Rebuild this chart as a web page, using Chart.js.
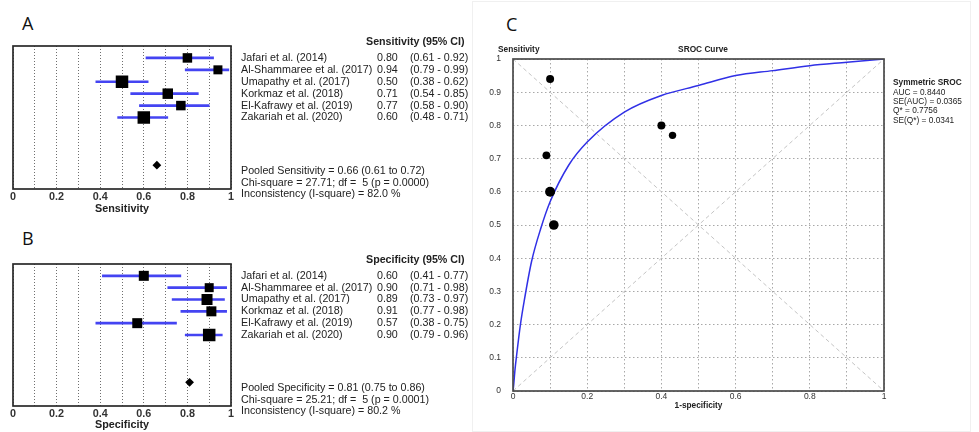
<!DOCTYPE html>
<html>
<head>
<meta charset="utf-8">
<script src="https://cdn.jsdelivr.net/npm/chart.js@4.4.1/dist/chart.umd.min.js"></script>
<style>
  html, body { margin: 0; padding: 0; background: #fff; }
  body { width: 979px; height: 432px; position: relative; overflow: hidden; }
  .box { position: absolute; }
  .letter { position: absolute; font-family: "Open Sans", sans-serif; font-size: 18px; line-height: 18px; color: #111; }
  #frameC { position: absolute; left: 472px; top: 1px; width: 497px; height: 429px; border: 1px solid #f0f0f0; }
</style>
</head>
<body>
<div id="frameC"></div>
<div class="letter" style="left:22px;top:14px">A</div>
<div class="letter" style="left:22px;top:229px">B</div>
<div class="letter" style="left:506px;top:15px">C</div>
<div class="box" style="left:0;top:0;width:480px;height:220px"><canvas id="chartA"></canvas></div>
<div class="box" style="left:0;top:218px;width:480px;height:214px"><canvas id="chartB"></canvas></div>
<div class="box" style="left:480px;top:0;width:499px;height:432px"><canvas id="chartC"></canvas></div>
<script>
const studies = ['Jafari et al. (2014)', 'Al-Shammaree et al. (2017)', 'Umapathy et al. (2017)',
  'Korkmaz et al. (2018)', 'El-Kafrawy et al. (2019)', 'Zakariah et al. (2020)'];
const sens = [0.80, 0.94, 0.50, 0.71, 0.77, 0.60];
const sensLo = [0.61, 0.79, 0.38, 0.54, 0.58, 0.48];
const sensHi = [0.92, 0.99, 0.62, 0.85, 0.90, 0.71];
const spec = [0.60, 0.90, 0.89, 0.91, 0.57, 0.90];
const specLo = [0.41, 0.71, 0.73, 0.77, 0.38, 0.79];
const specHi = [0.77, 0.98, 0.97, 0.98, 0.75, 0.96];
const pooledSens = [0.66, 0.61, 0.72];
const pooledSpec = [0.81, 0.75, 0.86];
const chiSquare = [27.71, 25.21];
const dfValues = [5, 5];
const pValues = ['0.0000', '0.0001'];
const iSquare = ['82.0', '80.2'];
const forestTicks = ['0', '0.2', '0.4', '0.6', '0.8', '1'];
const srocXTicks = ['0', '0.2', '0.4', '0.6', '0.8', '1'];
const srocYTicks = ['0', '0.1', '0.2', '0.3', '0.4', '0.5', '0.6', '0.7', '0.8', '0.9', '1'];
const srocFpr = [0, 0.002, 0.005, 0.01, 0.02, 0.03, 0.05, 0.075, 0.1, 0.15, 0.2, 0.3, 0.4, 0.5, 0.6, 0.7, 0.8, 0.9, 1];
const srocTpr = [0, 0.02, 0.06, 0.11, 0.2, 0.27, 0.39, 0.49, 0.57, 0.68, 0.75, 0.84, 0.89, 0.92, 0.95, 0.965, 0.98, 0.99, 1];
const diagUp = [[0, 0], [1, 1]];
const diagDown = [[0, 1], [1, 0]];
const srocLabels = ['AUC', 'SE(AUC)', 'Q*', 'SE(Q*)'];
const srocValues = ['0.8440', '0.0365', '0.7756', '0.0341'];

// marker sizes (px)
const boxSizeA = [9.5, 9, 12.5, 10.5, 9.5, 12.5];
const boxSizeB = [10, 9, 11, 10, 10, 12.5];
const dotSizeC = [4, 4, 4.8, 3.9, 3.7, 5];

const FONT = '"Liberation Sans", Arial, sans-serif';
Chart.defaults.font.family = FONT;
Chart.defaults.color = '#333';

const framePlugin = {
  id: 'frame',
  afterDraw(chart, args, o) {
    const {ctx, chartArea: a} = chart;
    ctx.save();
    ctx.strokeStyle = o.color || '#333';
    ctx.lineWidth = o.width || 1.5;
    ctx.strokeRect(a.left, a.top, a.right - a.left, a.bottom - a.top);
    ctx.restore();
  }
};

const forestText = {
  id: 'forestText',
  afterDraw(chart, args, o) {
    const {ctx} = chart;
    const y = chart.scales.y;
    ctx.save();
    ctx.fillStyle = '#222';
    ctx.textBaseline = 'middle';
    ctx.font = 'bold 10.7px ' + FONT;
    ctx.fillText(o.header, 366, y.getPixelForValue(0) - 4);
    ctx.font = '10.7px ' + FONT;
    o.est.forEach((v, i) => {
      const py = y.getPixelForValue(i + 1);
      ctx.fillText(studies[i], 241, py);
      ctx.fillText(v.toFixed(2), 377, py);
      ctx.fillText('(' + o.lo[i].toFixed(2) + ' - ' + o.hi[i].toFixed(2) + ')', 410, py);
    });
    const k = o.k;
    const base = y.getPixelForValue(10) + 6;
    const lines = [
      'Pooled ' + o.name + ' = ' + o.pooled[0].toFixed(2) + ' (' + o.pooled[1].toFixed(2) + ' to ' + o.pooled[2].toFixed(2) + ')',
      'Chi-square = ' + chiSquare[k].toFixed(2) + '; df =  ' + dfValues[k] + ' (p = ' + pValues[k] + ')',
      'Inconsistency (I-square) = ' + iSquare[k] + ' %'
    ];
    lines.forEach((t, i) => ctx.fillText(t, 241, base + i * 11.6));
    ctx.restore();
  }
};

function forestChart(id, k, name, est, lo, hi, pooled, sizes) {
  return new Chart(document.getElementById(id), {
    type: 'scatter',
    data: {
      datasets: [
        {
          type: 'scatter', order: 0,
          data: est.map((v, i) => ({x: v, y: i + 1})),
          pointStyle: 'rect', pointRadius: sizes.map(s => s / Math.SQRT2),
          pointBackgroundColor: '#000', pointBorderWidth: 0
        },
        {
          type: 'scatter', order: 0,
          data: [{x: pooled[0], y: 10}],
          pointStyle: 'rectRot', pointRadius: 4.4,
          pointBackgroundColor: '#000', pointBorderWidth: 0
        },
        {
          type: 'bar', order: 1, indexAxis: 'y',
          data: lo.map((v, i) => ({x: [v, hi[i]], y: i + 1})),
          barThickness: 2, backgroundColor: '#4444f2', borderWidth: 0
        }
      ]
    },
    options: {
      responsive: true, maintainAspectRatio: false, animation: false,
      layout: {padding: {left: 13, right: 249, top: 46, bottom: 0}},
      plugins: {
        legend: {display: false}, tooltip: {enabled: false},
        frame: {color: '#2a2a2a', width: 1.7},
        forestText: {header: name + ' (95% CI)', name, k, est, lo, hi, pooled}
      },
      scales: {
        x: {
          type: 'linear', min: 0, max: 1, offset: false,
          ticks: {
            stepSize: 0.1, autoSkip: false, maxRotation: 0, padding: 2, color: '#333',
            font: {size: 10.8, weight: 'bold'},
            callback: (v, i) => (i % 2 === 0 ? forestTicks[i / 2] : '')
          },
          grid: {color: '#6e6e6e', lineWidth: 1, drawTicks: false, offset: false},
          border: {display: false, dash: [1, 2]},
          title: {display: true, text: name, color: '#222', font: {size: 10.8, weight: 'bold'},
                  padding: {top: 0, bottom: id === 'chartA' ? 4 : 0}},
          afterFit: s => { s.height = id === 'chartA' ? 31 : 26; }
        },
        y: {type: 'linear', min: 0, max: 12, reverse: true, display: false, offset: false}
      }
    },
    plugins: [framePlugin, forestText]
  });
}

forestChart('chartA', 0, 'Sensitivity', sens, sensLo, sensHi, pooledSens, boxSizeA);
forestChart('chartB', 1, 'Specificity', spec, specLo, specHi, pooledSpec, boxSizeB);

const srocText = {
  id: 'srocText',
  afterDraw(chart) {
    const {ctx, chartArea: a} = chart;
    ctx.save();
    ctx.fillStyle = '#222';
    ctx.textBaseline = 'middle';
    ctx.font = 'bold 8.3px ' + FONT;
    ctx.fillText('Sensitivity', 18, a.top - 9);
    ctx.textAlign = 'center';
    ctx.fillText('SROC Curve', 223, a.top - 9);
    ctx.textAlign = 'left';
    ctx.fillText('Symmetric SROC', 413, 83);
    ctx.font = '8.3px ' + FONT;
    srocLabels.forEach((l, i) => ctx.fillText(l + ' = ' + srocValues[i], 413, 92.4 + i * 9.3));
    ctx.restore();
  }
};

const fpr = spec.map(v => 1 - v);

new Chart(document.getElementById('chartC'), {
  type: 'scatter',
  data: {
    datasets: [
      {
        type: 'scatter', order: 0,
        data: fpr.map((v, i) => ({x: v, y: sens[i]})),
        pointRadius: dotSizeC, pointBackgroundColor: '#000', pointBorderWidth: 0
      },
      {
        type: 'line', order: 1,
        data: srocFpr.map((v, i) => ({x: v, y: srocTpr[i]})),
        borderColor: '#3030e6', borderWidth: 1.5, pointRadius: 0, cubicInterpolationMode: 'monotone', fill: false
      },
      {
        type: 'line', order: 2,
        data: diagUp.map(p => ({x: p[0], y: p[1]})),
        borderColor: '#c4c4c4', borderWidth: 1, borderDash: [4, 3], pointRadius: 0, fill: false
      },
      {
        type: 'line', order: 2,
        data: diagDown.map(p => ({x: p[0], y: p[1]})),
        borderColor: '#c4c4c4', borderWidth: 1, borderDash: [4, 3], pointRadius: 0, fill: false
      }
    ]
  },
  options: {
    responsive: true, maintainAspectRatio: false, animation: false,
    layout: {padding: {left: 0, right: 95, top: 59, bottom: 16}},
    plugins: {
      legend: {display: false}, tooltip: {enabled: false},
      frame: {color: '#4a4a4a', width: 1.7}
    },
    scales: {
      x: {
        type: 'linear', min: 0, max: 1, offset: false,
        ticks: {
          stepSize: 0.1, autoSkip: false, maxRotation: 0, padding: 1, color: '#333',
          font: {size: 8.5},
          callback: (v, i) => (i % 2 === 0 ? srocXTicks[i / 2] : '')
        },
        grid: {color: '#a8a8a8', lineWidth: 1, drawTicks: false},
        border: {display: false, dash: [1.5, 2.5]},
        title: {display: true, text: '1-specificity', color: '#222', font: {size: 8.3, weight: 'bold'}, padding: {top: 0, bottom: 5}},
        afterFit: s => { s.height = 25; }
      },
      y: {
        type: 'linear', min: 0, max: 1, offset: false,
        ticks: {
          stepSize: 0.1, autoSkip: false, padding: 12, color: '#333',
          font: {size: 8.5},
          callback: (v, i) => srocYTicks[i]
        },
        grid: {color: '#a8a8a8', lineWidth: 1, drawTicks: false},
        border: {display: false, dash: [1.5, 2.5]},
        afterFit: s => { s.width = 33; }
      }
    }
  },
  plugins: [framePlugin, srocText]
});
</script>
</body>
</html>
